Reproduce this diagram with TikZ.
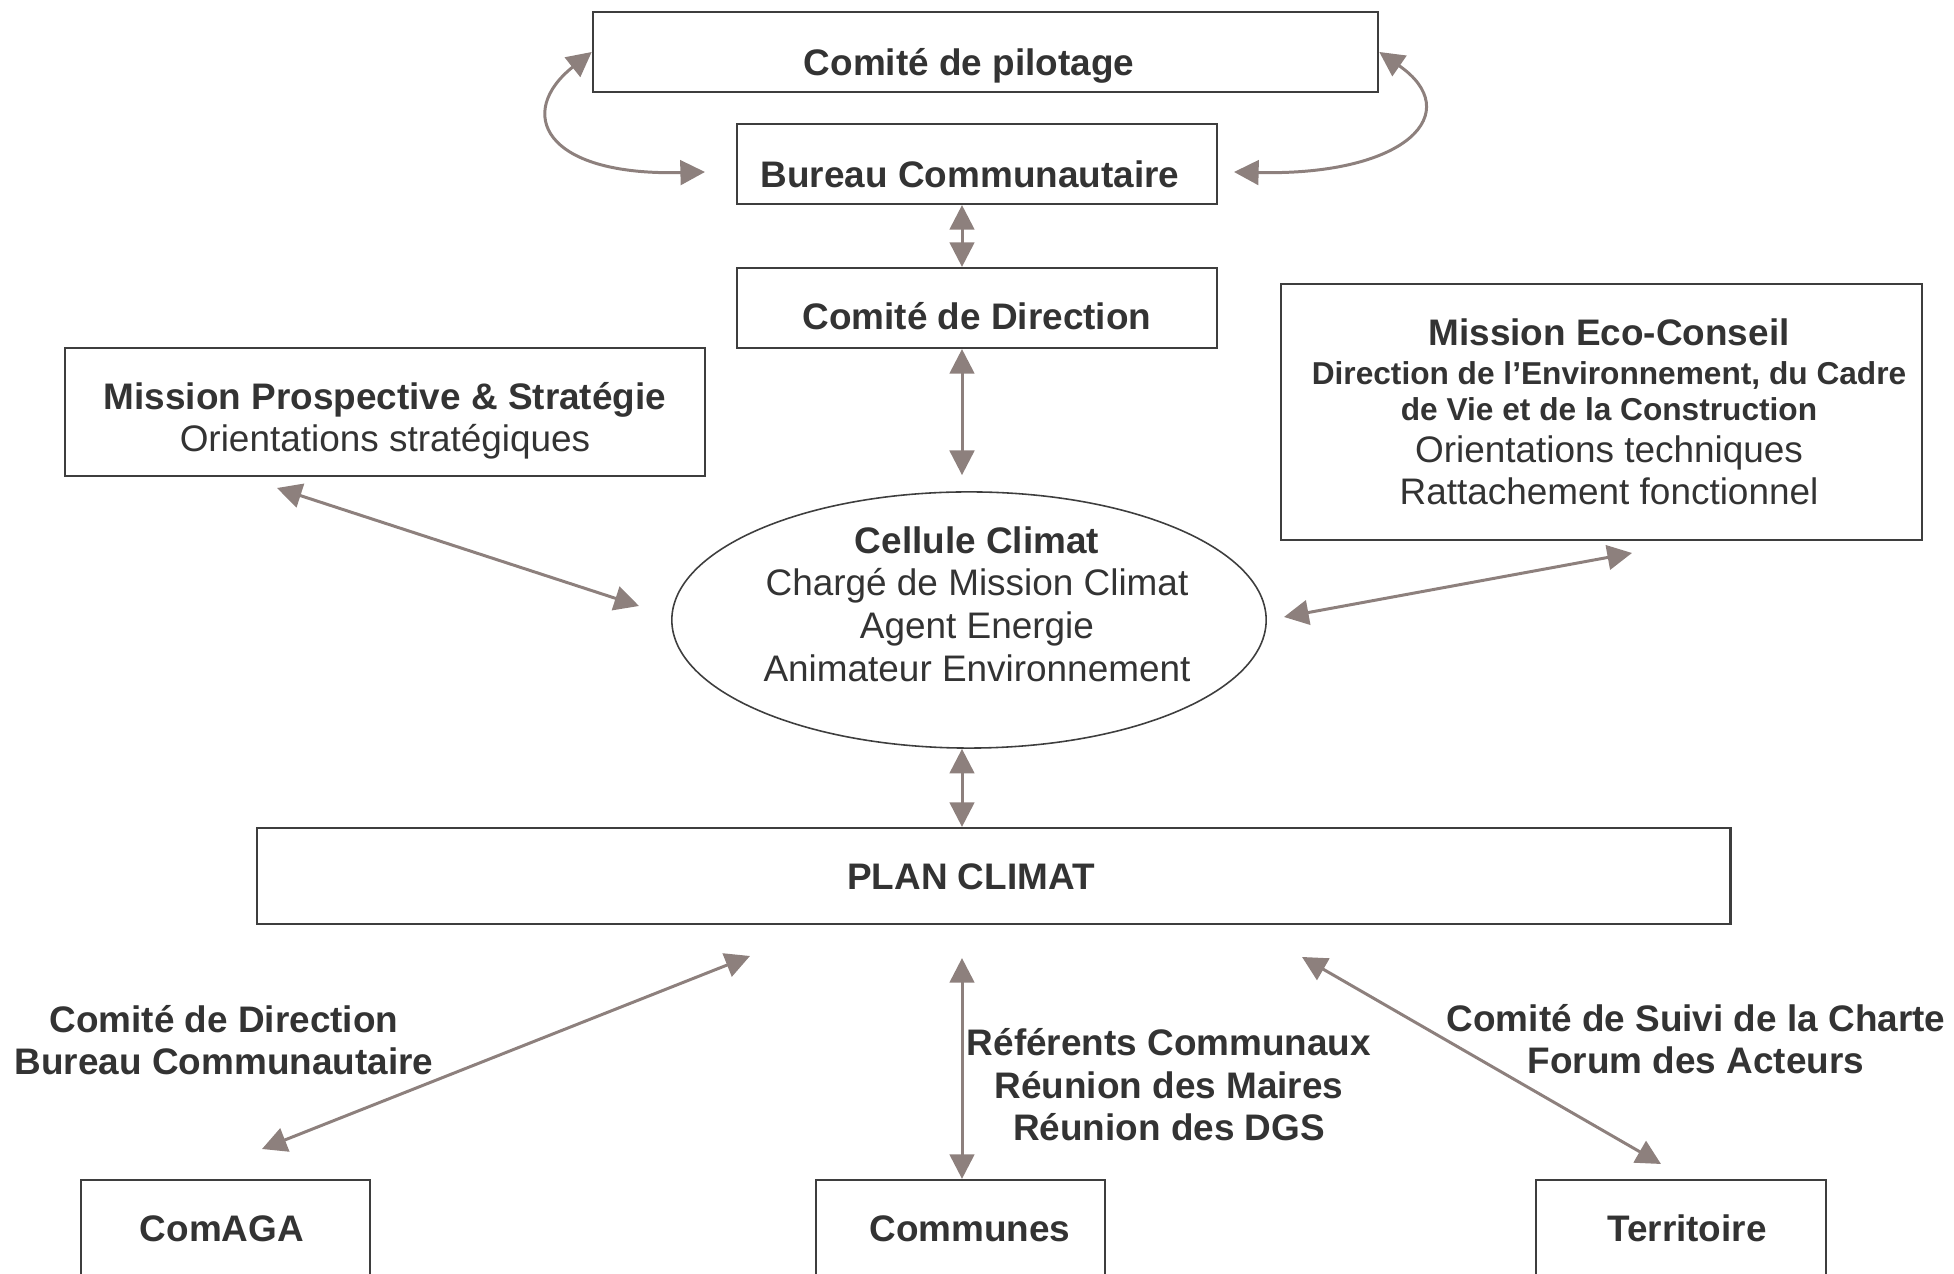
\documentclass[tikz,border=0pt]{standalone}
\usepackage{fontspec}
\setmainfont{Liberation Sans}
\usetikzlibrary{arrows.meta,shapes.geometric}

\definecolor{inkc}{RGB}{51,51,51}
\definecolor{linec}{RGB}{62,62,62}
\definecolor{arrowc}{RGB}{141,128,125}

\tikzset{
  box/.style={draw=linec, line width=0.6pt, inner sep=0pt},
  txt/.style={text=inkc, font=\fontsize{10.5}{12.1}\selectfont, align=center, inner sep=0pt},
  bold/.style={txt, font=\fontsize{10.5}{12.1}\selectfont\bfseries},
  oneline/.style={text height=7.5pt, text depth=0pt},
  link/.style={draw=arrowc, line width=0.85pt,
    {Triangle[length=7pt,width=7pt]}-{Triangle[length=7pt,width=7pt]}},
}

\begin{document}
\begin{tikzpicture}[x=0.01cm, y=-0.01cm]
    \useasboundingbox (0,0) rectangle (1954,1274);

    % frames
    \node[box, minimum width=7.85cm, minimum height=0.8cm] (pilot) at (985.5,52) {};
    \node[box, minimum width=4.80cm, minimum height=0.8cm] (bureau) at (977,164) {};
    \node[box, minimum width=4.80cm, minimum height=0.8cm] (codir) at (977,308) {};
    \node[box, minimum width=6.40cm, minimum height=1.28cm] (prosp) at (385,412) {};
    \node[box, minimum width=6.41cm, minimum height=2.56cm] (eco) at (1601.5,412) {};
    \node[box, ellipse, line width=0.45pt, minimum width=5.94cm, minimum height=2.56cm] (cell) at (969,620) {};
    \node[box, minimum width=14.73cm, minimum height=0.96cm] (plan) at (993.5,876) {};
    \node[box, minimum width=2.89cm, minimum height=1.0cm] (comaga) at (225.5,1230) {};
    \node[box, minimum width=2.89cm, minimum height=1.0cm] (communes) at (960.5,1230) {};
    \node[box, minimum width=2.90cm, minimum height=1.0cm] (territoire) at (1681,1230) {};

    % texts
    \node[bold, oneline] (pilot-t) at (969,62) {Comité de pilotage};
    \node[bold, oneline] (bureau-t) at (970,174) {Bureau Communautaire};
    \node[bold, oneline] (codir-t) at (977,316) {Comité de Direction};
    \node[txt] (prosp-t) at (385,421) {\textbf{Mission Prospective \& Stratégie}\\Orientations stratégiques};
    \node[txt] (eco-t) at (1609,412) {\textbf{Mission Eco-Conseil}\\[-1pt]
        {\fontsize{9}{10.2}\selectfont\bfseries Direction de l’Environnement, du Cadre}\\[-1.9pt]
        {\fontsize{9}{10.2}\selectfont\bfseries de Vie et de la Construction}\\[-0.2pt]
        Orientations techniques\\Rattachement fonctionnel};
    \node[txt] (cell-t) at (977,604) {\textbf{Cellule Climat}\\Chargé de Mission Climat\\Agent Energie\\Animateur Environnement};
    \node[bold, oneline] (plan-t) at (971,876) {PLAN CLIMAT};
    \node[bold, oneline] (comaga-t) at (222,1228) {ComAGA};
    \node[bold, oneline] (communes-t) at (970,1228) {Communes};
    \node[bold, oneline] (territoire-t) at (1687,1228) {Territoire};

    \node[bold] (dir-l) at (224,1040) {Comité de Direction\\Bureau Communautaire};
    \node[bold] (ref-l) at (1169,1085) {Référents Communaux\\Réunion des Maires\\Réunion des DGS};
    \node[bold] (suivi-l) at (1696,1039) {Comité de Suivi de la Charte\\Forum des Acteurs};

    % links
    \coordinate (ax) at (962,0);
    \coordinate (bl) at (705,172);
    \coordinate (br) at (1234,172);
    \draw[link] (bl) .. controls (542,176) and (516,112) .. (pilot.west);
    \draw[link] (br) .. controls (1408,176) and (1466,112) .. (pilot.east);
    \draw[link] (bureau.south -| ax) -- (codir.north -| ax);
    \draw[link, shorten >=0.16cm] (codir.south -| ax) -- (cell.north -| ax);
    \draw[link] (cell.south -| ax) -- (plan.north -| ax);
    \draw[link, shorten <=0.33cm] (plan.south -| ax) -- (communes.north -| ax);

    \coordinate (ps-a) at (277,488);
    \coordinate (ps-b) at (639,606);
    \draw[link] (ps-a) -- (ps-b);
    \coordinate (ec-a) at (1284,617);
    \coordinate (ec-b) at (1632,553);
    \draw[link] (ec-a) -- (ec-b);
    \coordinate (pc-a) at (750,956);
    \coordinate (pc-b) at (262,1149);
    \draw[link] (pc-a) -- (pc-b);
    \coordinate (pt-a) at (1302,957);
    \coordinate (pt-b) at (1661,1164);
    \draw[link] (pt-a) -- (pt-b);
\end{tikzpicture}
\end{document}
